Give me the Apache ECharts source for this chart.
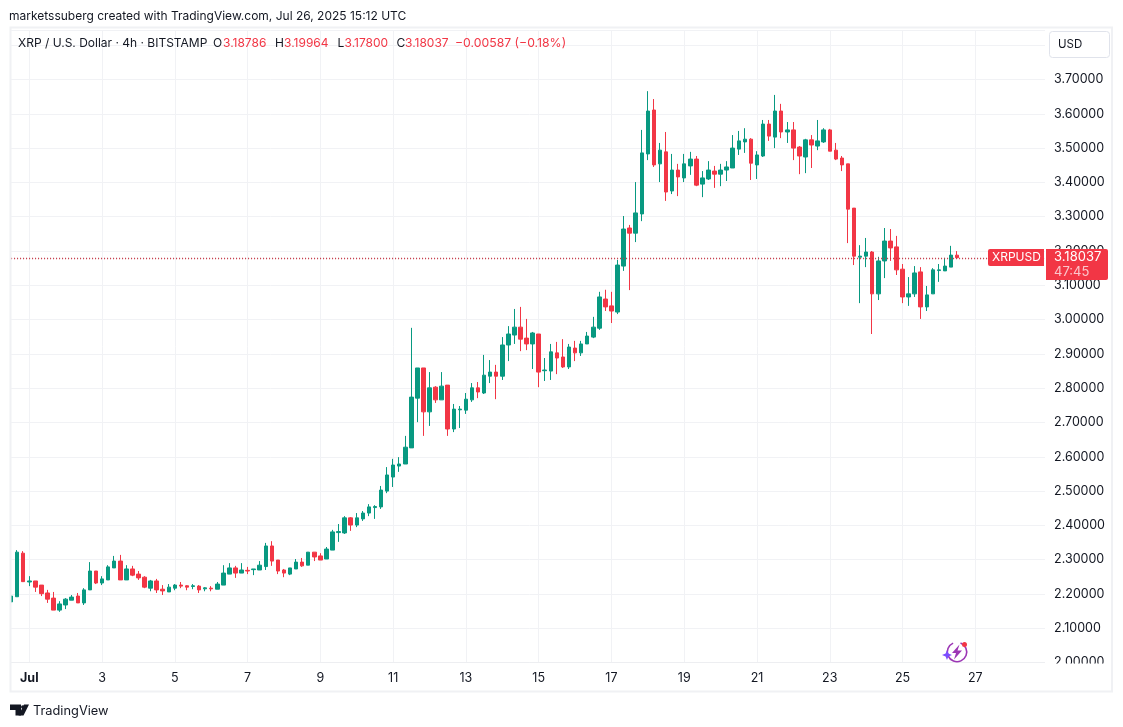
<!DOCTYPE html>
<html><head><meta charset="utf-8">
<style>html,body{margin:0;padding:0;background:#fff}#c{width:1123px;height:727px}</style>
<script src="https://cdn.jsdelivr.net/npm/echarts@6/dist/echarts.min.js"></script>
</head><body><div id="c"></div>
<script>
const opens=[2.177,2.192,2.319,2.235,2.238,2.226,2.203,2.188,2.153,2.168,2.182,2.194,2.174,2.212,2.267,2.232,2.241,2.276,2.296,2.241,2.273,2.258,2.249,2.217,2.238,2.214,2.206,2.217,2.226,2.224,2.222,2.223,2.215,2.217,2.214,2.226,2.258,2.276,2.261,2.269,2.271,2.270,
2.280,2.340,2.299,2.270,2.258,2.273,2.293,2.284,2.322,2.311,2.302,2.328,2.379,2.378,2.422,2.401,2.419,2.436,2.452,2.454,2.500,2.541,2.573,2.579,2.626,2.771,2.859,2.731,2.803,2.766,2.809,2.681,2.737,2.736,2.766,2.801,2.786,2.835,2.847,2.835,2.926,2.955,2.978,2.946,2.929,2.958,2.851,2.850,2.903,2.891,2.862,2.917,2.903,2.929,2.949,2.975,3.060,3.040,3.022,3.156,3.267,3.252,3.308,3.483,3.611,3.454,3.489,3.375,3.436,3.413,3.448,3.468,3.395,3.410,3.433,3.424,3.436,3.442,3.497,3.518,3.526,3.451,3.477,3.570,3.532,3.608,3.547,3.553,3.503,3.474,3.524,3.506,3.518,3.553,3.494,3.471,3.454,3.325,3.182,3.185,3.197,3.075,3.171,3.229,3.212,3.147,3.066,3.075,3.139,3.037,3.075,3.143,3.142,3.153,3.18786];
const closes=[2.194,2.322,2.236,2.238,2.220,2.201,2.185,2.153,2.171,2.185,2.191,2.174,2.212,2.267,2.232,2.244,2.279,2.296,2.241,2.273,2.255,2.247,2.220,2.238,2.212,2.209,2.220,2.226,2.223,2.220,2.224,2.212,2.218,2.215,2.229,2.261,2.276,2.261,2.270,2.267,2.273,2.284,
2.340,2.296,2.267,2.261,2.276,2.293,2.282,2.322,2.308,2.299,2.331,2.381,2.382,2.422,2.401,2.422,2.436,2.454,2.455,2.503,2.547,2.576,2.579,2.628,2.774,2.859,2.731,2.801,2.766,2.806,2.681,2.739,2.739,2.768,2.801,2.789,2.838,2.847,2.835,2.926,2.958,2.978,2.943,2.929,2.961,2.847,2.853,2.906,2.888,2.862,2.920,2.903,2.929,2.952,2.978,3.066,3.037,3.025,3.159,3.264,3.252,3.311,3.486,3.608,3.451,3.494,3.372,3.436,3.416,3.454,3.468,3.392,3.413,3.436,3.424,3.436,3.445,3.500,3.521,3.526,3.456,3.480,3.570,3.535,3.608,3.547,3.553,3.500,3.477,3.524,3.509,3.521,3.553,3.491,3.468,3.451,3.322,3.185,3.185,3.197,3.075,3.171,3.229,3.209,3.145,3.066,3.075,3.136,3.037,3.072,3.145,3.145,3.156,3.188,3.18037];
const lows=[2.165,2.192,2.236,2.223,2.206,2.194,2.174,2.153,2.148,2.156,2.182,2.174,2.168,2.212,2.229,2.226,2.241,2.276,2.241,2.241,2.252,2.241,2.217,2.208,2.203,2.197,2.206,2.211,2.217,2.211,2.214,2.203,2.208,2.208,2.214,2.226,2.258,2.247,2.261,2.258,2.255,2.270,
2.270,2.282,2.258,2.249,2.255,2.273,2.279,2.284,2.296,2.299,2.302,2.328,2.352,2.375,2.384,2.395,2.413,2.427,2.419,2.448,2.494,2.512,2.556,2.579,2.626,2.701,2.661,2.690,2.757,2.766,2.661,2.672,2.684,2.725,2.760,2.771,2.783,2.815,2.768,2.824,2.879,2.929,2.908,2.911,2.856,2.803,2.821,2.824,2.841,2.859,2.856,2.879,2.894,2.929,2.946,2.970,3.025,2.990,3.016,3.142,3.086,3.226,3.287,3.465,3.445,3.401,3.346,3.366,3.360,3.401,3.422,3.389,3.357,3.407,3.384,3.389,3.404,3.442,3.480,3.486,3.407,3.410,3.474,3.521,3.500,3.529,3.515,3.465,3.424,3.427,3.442,3.494,3.515,3.491,3.465,3.433,3.223,3.159,3.048,3.153,2.958,3.057,3.121,3.171,3.130,3.048,3.040,3.066,3.002,3.025,3.075,3.110,3.142,3.153,3.17800];
const highs=[2.200,2.328,2.325,2.252,2.238,2.226,2.212,2.206,2.179,2.188,2.197,2.203,2.217,2.293,2.267,2.252,2.284,2.311,2.314,2.284,2.282,2.267,2.252,2.241,2.244,2.226,2.229,2.229,2.235,2.226,2.229,2.226,2.220,2.223,2.235,2.284,2.290,2.282,2.290,2.279,2.273,2.296,
2.349,2.354,2.299,2.273,2.276,2.302,2.305,2.322,2.322,2.319,2.337,2.387,2.404,2.427,2.424,2.436,2.442,2.462,2.459,2.515,2.570,2.594,2.599,2.661,2.976,2.859,2.859,2.847,2.806,2.847,2.809,2.754,2.748,2.786,2.815,2.818,2.897,2.882,2.868,2.949,2.981,3.031,3.037,3.002,2.964,2.958,2.888,2.929,2.935,2.943,2.929,2.938,2.938,2.964,3.008,3.081,3.087,3.081,3.174,3.302,3.276,3.401,3.553,3.666,3.643,3.515,3.547,3.483,3.454,3.483,3.489,3.477,3.433,3.462,3.448,3.454,3.462,3.538,3.550,3.558,3.529,3.491,3.582,3.582,3.655,3.629,3.576,3.576,3.506,3.527,3.538,3.582,3.558,3.556,3.515,3.477,3.454,3.325,3.217,3.238,3.200,3.183,3.267,3.264,3.244,3.162,3.124,3.156,3.153,3.098,3.150,3.162,3.180,3.215,3.19964];
const tickLabels=['Jul','3','5','7','9','11','13','15','17','19','21','23','25','27'];
const categories=Array.from({length:172},(_,i)=>String(i));
const UP='#089981',DOWN='#F23645',INK='#131722',GRID='#F1F2F5',FONT='Inter, "Noto Sans", sans-serif';
const headerTitle='marketssuberg created with TradingView.com, Jul 26, 2025 15:12 UTC';
const symbolTitle='XRP / U.S. Dollar · 4h · BITSTAMP';
const lastPrice=closes[closes.length-1];
const isDayTick=i=>i>=3&&(i-3)%12===0;
const txt=(text,x,y,fill,size,extra)=>({type:'text',x,y,z:30,silent:true,style:Object.assign({text,fill,fontSize:size,fontFamily:FONT,verticalAlign:'middle'},extra||{})});
const poly=(points,fill,z)=>({type:'polygon',z:z||31,silent:true,shape:{points},style:{fill}});
const chart=echarts.init(document.getElementById('c'),null,{renderer:'canvas'});
chart.setOption({
  animation:false,backgroundColor:'#fff',
  grid:{left:11.1,right:1123-(11.1+171*6.0641),top:30,height:632.6,containLabel:false},
  xAxis:{type:'category',data:categories,boundaryGap:false,
    axisLine:{show:true,lineStyle:{color:'#EDEEF1',width:1}},axisTick:{show:false},
    splitLine:{show:true,interval:(i)=>isDayTick(i),lineStyle:{color:GRID,width:1}},
    axisLabel:{interval:(i)=>isDayTick(i),margin:9,color:INK,fontSize:12.5,fontFamily:FONT,
      formatter:(v,i)=>{const l=tickLabels[(i-3)/12];return l==='Jul'?'{b|Jul}':l;},
      rich:{b:{fontWeight:'bold',fontSize:12.5,fontFamily:FONT,color:INK}}}},
  yAxis:{type:'value',position:'right',min:2,max:3.8443,interval:0.1,scale:true,
    axisLine:{show:false},axisTick:{show:false},
    splitLine:{show:true,lineStyle:{color:GRID,width:1}},
    axisLabel:{margin:6,color:INK,fontSize:12.5,fontFamily:FONT,
      formatter:(v)=>v>3.75?'':v.toFixed(5)}},
  series:[{type:'candlestick',clip:false,barWidth:4,
    data:opens.map((o,i)=>[o,closes[i],lows[i],highs[i]]),
    itemStyle:{color:UP,color0:DOWN,borderColor:UP,borderColor0:DOWN,borderWidth:1},
    markLine:{silent:true,symbol:'none',animation:false,label:{show:false},
      lineStyle:{color:'#C2303F',type:[1,2],width:1.3},data:[{yAxis:lastPrice}]}}],
  graphic:[
    {type:'rect',z:20,silent:true,shape:{x:0,y:0,width:10,height:727},style:{fill:'#fff'}},
    {type:'rect',z:20,silent:true,shape:{x:1045,y:28,width:4,height:635},style:{fill:'#fff'}},
    {type:'rect',z:20,silent:true,shape:{x:1045.5,y:663.4,width:66,height:27},style:{fill:'#fff'}},
    {type:'rect',z:21,silent:true,shape:{x:10.5,y:27.5,width:1101.5,height:664},style:{fill:'none',stroke:'#F0F1F4',lineWidth:2}},
    txt(headerTitle,9,16.5,INK,12),
    txt(symbolTitle,18,43,INK,12),
    txt('O',213,43,INK,12),txt('3.18786',223,43,DOWN,12),
    txt('H',275,43,INK,12),txt('3.19964',284,43,DOWN,12),
    txt('L',337.5,43,INK,12),txt('3.17800',344.5,43,DOWN,12),
    txt('C',396.5,43,INK,12),txt('3.18037',405,43,DOWN,12),
    txt('−0.00587 (−0.18%)',455,43,DOWN,12.25),
    {type:'rect',z:25,silent:true,shape:{x:1049.5,y:31.5,width:60,height:26,r:3},style:{fill:'#fff',stroke:'#E0E3EB',lineWidth:1}},
    txt('USD',1058,44.5,INK,11.5),
    {type:'rect',z:25,silent:true,shape:{x:988,y:249,width:56,height:17,r:[2,0,0,2]},style:{fill:DOWN}},
    txt('XRPUSD',992,257.5,'#fff',12),
    {type:'rect',z:25,silent:true,shape:{x:1046,y:249,width:62,height:31,r:[0,2,2,0]},style:{fill:DOWN}},
    txt('3.18037',1054,257.5,'#fff',13),
    txt('47:45',1054,272,'#FBC6CB',13),
    poly([[10,704.5],[21,704.5],[21,715.5],[15.5,715.5],[15.5,710],[10,710]],INK,30),
    poly([[29,704.5],[23.5,715.5],[18.5,715.5],[24,704.5]],INK,30),
    {type:'circle',z:30,silent:true,shape:{cx:22.8,cy:707,r:1.8},style:{fill:INK}},
    txt('TradingView',33,711,INK,12.8),
    {type:'arc',z:30,silent:true,shape:{cx:957,cy:652,r:9.7,startAngle:-1.2,endAngle:4.3,clockwise:true},style:{fill:'none',stroke:'#9C36B5',lineWidth:1.6}},
    poly([[959.5,644.5],[952,653],[956,653],[954,659.5],[962,650.5],[957.5,650.5]],'#9C36B5'),
    poly([[947,650],[948.4,653.6],[952,655],[948.4,656.4],[947,660],[945.6,656.4],[942,655],[945.6,653.6]],'#7B4DFF'),
    {type:'circle',z:31,silent:true,shape:{cx:964.5,cy:644.5,r:2.5},style:{fill:DOWN}}
  ]
});
</script></body></html>
